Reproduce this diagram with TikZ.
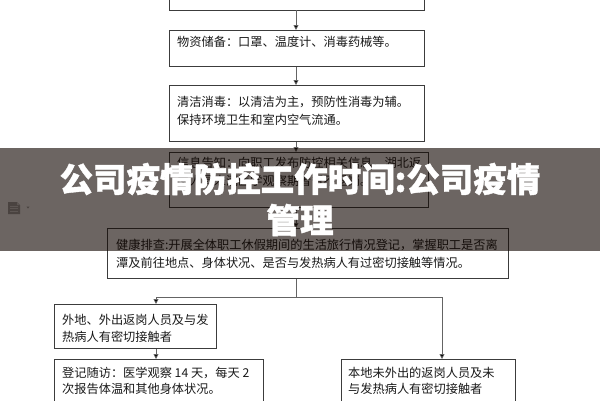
\documentclass[tikz,border=0pt]{standalone}
\usepackage{fontspec}
\newfontfamily\cjk{Noto Sans CJK SC}
\newfontfamily\cjktitle[BoldFeatures={FakeBold=1.2}]{Noto Sans CJK SC}
\usetikzlibrary{arrows.meta}
\definecolor{boxline}{RGB}{60,60,60}
\definecolor{conline}{RGB}{100,100,100}
\definecolor{bandcol}{RGB}{18,7,2}
\tikzset{
  box/.style={draw=boxline, line width=0.8pt, fill=none, inner sep=0pt},
  txt/.style={anchor=base west, inner sep=0pt, font=\cjk\fontsize{12.2}{14}\selectfont, text=black!90},
  conn/.style={draw=conline, line width=0.8pt},
  arr/.style={conn, -{Triangle[length=5pt,width=5pt,fill=black]}},
  titletxt/.style={inner sep=0pt, text=white, font=\cjktitle\bfseries\fontsize{33.5}{40}\selectfont}
}
\begin{document}
\begin{tikzpicture}[x=1pt,y=-1pt]
\useasboundingbox (0,0) rectangle (600,400);
\fill[white] (0,0) rectangle (600,400);
% boxes
\draw[box] (169,-5) rectangle (424,10);
\coordinate (b1s) at (296,10);
\node[box, minimum width=255pt, minimum height=36pt, anchor=north west] (b2) at (169,30) {};
\node[box, minimum width=255pt, minimum height=56pt, anchor=north west] (b3) at (169,85) {};
\node[box, minimum width=259pt, minimum height=55pt, anchor=north west] (b4) at (169,152) {};
\node[box, minimum width=401pt, minimum height=50pt, anchor=north west] (b5) at (107,228) {};
\node[box, minimum width=162pt, minimum height=44pt, anchor=north west] (b6) at (54,304) {};
\node[box, minimum width=209pt, minimum height=50pt, anchor=north west] (b7) at (54,359) {};
\node[box, minimum width=174pt, minimum height=50pt, anchor=north west] (b8) at (341,359) {};
% texts
\node[txt] (t2) at (177,46.5) {物资储备：口罩、温度计、消毒药械等。};
\node[txt] (t3a) at (177,106.5) {清洁消毒：以清洁为主，预防性消毒为辅。};
\node[txt] (t3b) at (177,124.5) {保持环境卫生和室内空气流通。};
\node[txt] (t4a) at (177,167.5) {信息告知：向职工发布防控相关信息，湖北返};
\node[txt] (t4b) at (177,185.5) {岗人员未满医学观察期者暂不返岗。};
\node[txt] (t5a) at (116,249.5) {健康排查:开展全体职工休假期间的生活旅行情况登记，掌握职工是否离};
\node[txt] (t5b) at (116,267.5) {潭及前往地点、身体状况、是否与发热病人有过密切接触等情况。};
\node[txt] (t6a) at (62,324.5) {外地、外出返岗人员及与发};
\node[txt] (t6b) at (62,341.5) {热病人有密切接触者};
\node[txt] (t7a) at (62,377.5) {登记随访：医学观察 14 天，每天 2};
\node[txt] (t7b) at (62,393.5) {次报告体温和其他身体状况。};
\node[txt] (t8a) at (348,377.5) {本地未外出的返岗人员及未};
\node[txt] (t8b) at (348,393.5) {与发热病人有密切接触者};
% connectors
\draw[arr] (b1s) -- (b2.north -| b1s);
\draw[arr] (b2.south -| b1s) -- (b3.north -| b1s);
\draw[arr] (b3.south -| b1s) -- (b4.north -| b1s);
\draw[arr] (b4.south -| b1s) -- (b5.north -| b1s);
\coordinate (j) at (296,297);
\coordinate (jl) at (156,297);
\coordinate (jr) at (442,297);
\draw[conn] (b5.south -| j) -- (j);
\draw[conn] (jl) -- (jr);
\draw[arr] (jl) -- (b6.north -| jl);
\draw[arr] (jr) -- (b8.north -| jr);
\draw[arr] (b6.south -| jl) -- (b7.north -| jl);
% icon
\fill[black!35] (8,202) -- (17,202) -- (20,205) -- (20,214) -- (8,214) -- cycle;
\fill[black!15] (17,202) -- (17,205) -- (20,205) -- cycle;
\foreach \yy in {206,208.5,211} \draw[black!15, line width=0.6pt] (10,\yy) -- (18,\yy);
\fill[black!35] (26.5,206.5) -- (29.5,206.5) -- (28,208.5) -- cycle;
% band
\fill[bandcol, fill opacity=0.62] (0,148) rectangle (600,251);
% title
\node[titletxt] (title1) at (300,179) {公司疫情防控工作时间:公司疫情};
\node[titletxt] (title2) at (300,220) {管理};
\end{tikzpicture}
\end{document}
